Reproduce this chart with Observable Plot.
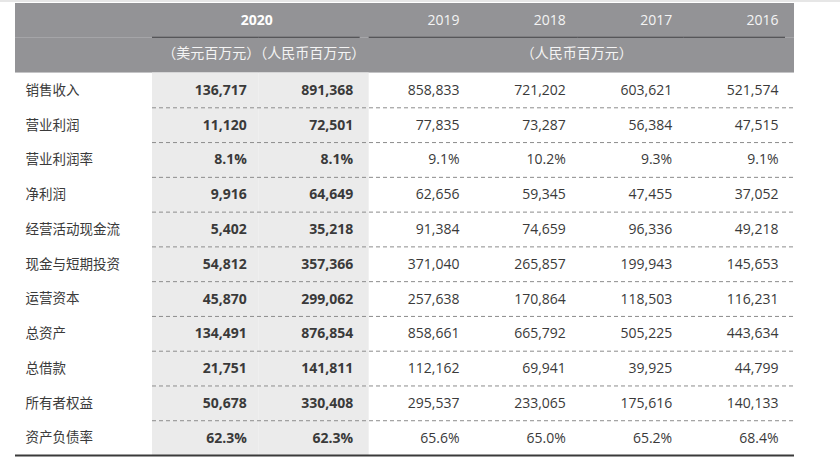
<!DOCTYPE html>
<html><head><meta charset="utf-8">
<script src="https://cdn.jsdelivr.net/npm/d3@7"></script>
<script src="https://cdn.jsdelivr.net/npm/@observablehq/plot@0.6"></script>
<style>
body{margin:0;background:#fff;}
#topline{height:2px;background:#e6e6e6;width:840px}
#chart svg{display:block}
</style></head><body>
<div id="topline"></div><div id="chart"></div>
<script>
const rowLabels = ["销售收入","营业利润","营业利润率","净利润","经营活动现金流","现金与短期投资","运营资本","总资产","总借款","所有者权益","资产负债率"];
const columns = ["usd2020","rmb2020","2019","2018","2017","2016"];
const yearLabels = ["2019","2018","2017","2016"];
const headYear2020 = "2020";
const unitTexts = ["（美元百万元）（人民币百万元）","（人民币百万元）"];
const percentRows = ["营业利润率","资产负债率"];

const usd2020 = [136717, 11120, 8.1, 9916, 5402, 54812, 45870, 134491, 21751, 50678, 62.3];
const rmb2020 = [891368, 72501, 8.1, 64649, 35218, 357366, 299062, 876854, 141811, 330408, 62.3];
const y2019 = [858833, 77835, 9.1, 62656, 91384, 371040, 257638, 858661, 112162, 295537, 65.6];
const y2018 = [721202, 73287, 10.2, 59345, 74659, 265857, 170864, 665792, 69941, 233065, 65.0];
const y2017 = [603621, 56384, 9.3, 47455, 96336, 199943, 118503, 505225, 39925, 175616, 65.2];
const y2016 = [521574, 47515, 9.1, 37052, 49218, 145653, 116231, 443634, 44799, 140133, 68.4];

const W = 840, H = 467, mL = 15, mR = 46, mT = 1, mB = 14;
const xLeft = 152, xRight = 790;
const bw = (xRight - xLeft) / columns.length;
const step = (H - mT - mB) / (rowLabels.length + 2);
const yDomain = ["year", "unit", ...rowLabels];
const seriesByCol = {usd2020, rmb2020, "2019": y2019, "2018": y2018, "2017": y2017, "2016": y2016};
const cells = rowLabels.flatMap((r, i) => columns.map(c => ({row: r, col: c, value: seriesByCol[c][i]})));
const fmt = d => percentRows.includes(d.row) ? d3.format(".1f")(d.value) + "%" : d3.format(",")(d.value);
const is2020 = d => d.col.endsWith("2020");

const font = `"Open Sans","Noto Sans CJK SC",sans-serif`;
const textColor = "#3a3a3a";
const headLine = "#3f3f42";

const chart = Plot.plot({
  width: W, height: H, marginLeft: mL, marginRight: mR, marginTop: mT, marginBottom: mB,
  style: {fontFamily: font, background: "#fff", fontSize: "14px"},
  x: {type: "band", domain: columns, range: [xLeft, xRight], padding: 0, round: false, axis: null},
  y: {type: "band", domain: yDomain, padding: 0, round: false, axis: null},
  marks: [
    Plot.cell(["year", "unit"], {y: d => d, fill: "#939396"}),
    Plot.cell(cells.filter(d => d.col === "usd2020"), {x: "col", y: "row", fill: "#ebebeb"}),
    Plot.cell(cells.filter(d => d.col === "rmb2020"), {x: "col", y: "row", fill: "#ebebeb", insetRight: -4}),
    Plot.cell(["usd2020"], {x: d => d, y: () => "year", fill: headLine, insetTop: step - 1}),
    Plot.cell(["rmb2020"], {x: d => d, y: () => "year", fill: headLine, insetTop: step - 1, insetRight: 5}),
    Plot.cell(["2019"], {x: d => d, y: () => "year", fill: headLine, insetTop: step - 1, insetLeft: 4}),
    Plot.cell(["2018", "2017"], {x: d => d, y: () => "year", fill: headLine, insetTop: step - 1}),
    Plot.cell(["2016"], {x: d => d, y: () => "year", fill: headLine, insetTop: step - 1, insetRight: 5}),
    Plot.ruleY(rowLabels.slice(1), {y: d => d, dy: -step / 2, insetLeft: xLeft - mL, stroke: "#8c8c8c", strokeWidth: 1, strokeDasharray: "4,3"}),
    Plot.ruleY([rowLabels[rowLabels.length - 1]], {y: d => d, dy: step / 2, stroke: "#3a3a3a", strokeWidth: 2}),
    Plot.text(rowLabels, {y: d => d, text: d => d, frameAnchor: "left", textAnchor: "start", dx: 10, fontSize: 13.5, fill: textColor}),
    Plot.text(cells.filter(is2020), {x: "col", y: "row", text: fmt, textAnchor: "end", dx: bw / 2 - 12, fontWeight: "bold", fill: textColor}),
    Plot.text(cells.filter(d => !is2020(d)), {x: "col", y: "row", text: fmt, textAnchor: "end", dx: bw / 2 - 12, fill: textColor}),
    Plot.text([headYear2020], {x: () => "usd2020", y: () => "year", text: d => d, dx: bw / 2 - 2, fontWeight: "bold", fill: "#ffffff"}),
    Plot.text(yearLabels, {x: d => d, y: () => "year", text: d => d, textAnchor: "end", dx: bw / 2 - 12, fill: "#f4f4f4"}),
    Plot.text([unitTexts[0]], {x: () => "usd2020", y: () => "unit", text: d => d, dx: bw / 2 + 5, dy: -2, fill: "#f4f4f4"}),
    Plot.text([unitTexts[1]], {x: () => "2018", y: () => "unit", text: d => d, dx: bw / 2 - 1, dy: -2, fill: "#f4f4f4"})
  ]
});
document.getElementById("chart").appendChild(chart);
</script>
</body></html>
